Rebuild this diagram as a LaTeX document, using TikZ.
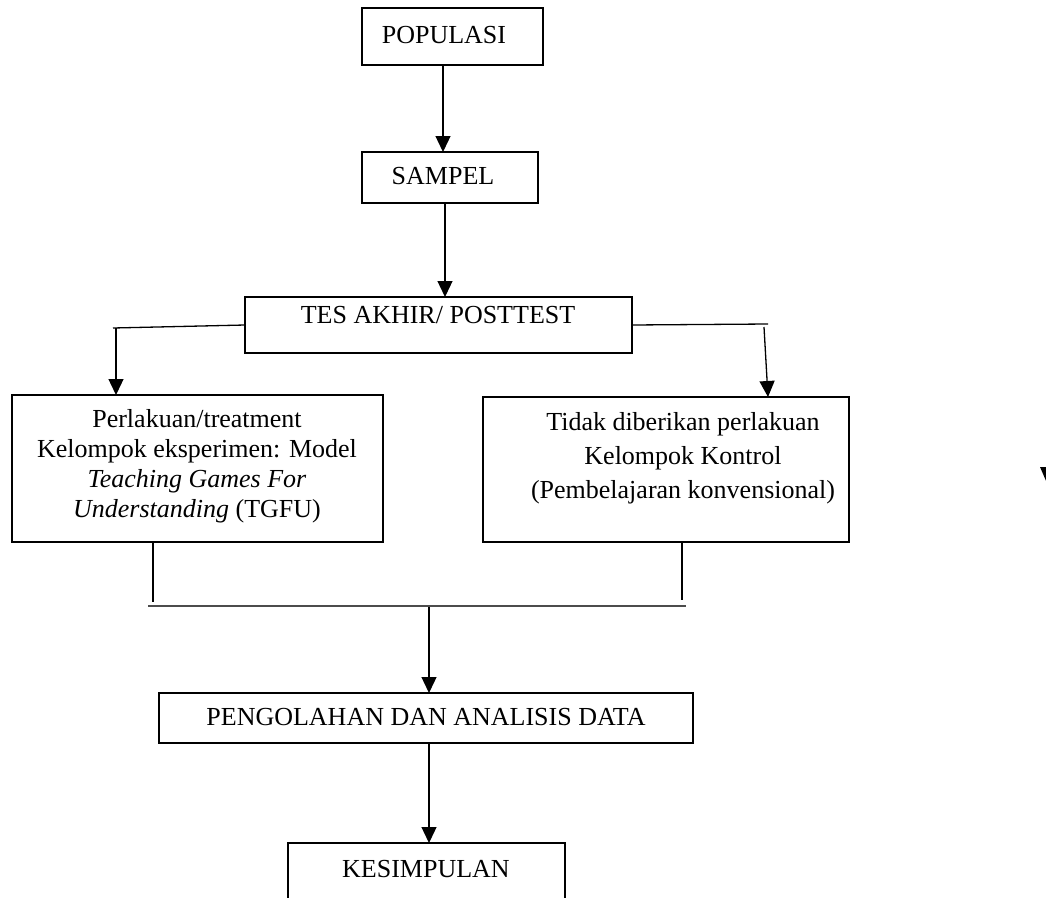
\documentclass[tikz,border=0pt]{standalone}
\usepackage{fontspec}
\setmainfont{Liberation Serif}
\usetikzlibrary{arrows.meta}
\begin{document}
\begin{tikzpicture}[x=1pt,y=-1pt,
  txt/.style={inner sep=0pt,font=\fontsize{26}{30}\selectfont,align=center},
  boxline/.style={line width=2.6pt},
  conn/.style={line width=1.3pt},
  arr/.style={line width=1.3pt,-{Triangle[length=16pt,width=15pt]}},
  merge/.style={line width=2pt,draw=black!70}]
\useasboundingbox (0,0) rectangle (1046,897);
\clip (0,0) rectangle (1046,897);
\fill[white] (0,0) rectangle (1046,897);
% boxes
\draw[boxline] (362,8) rectangle (543,65);
\node[txt] (tpop) at (444,35) {POPULASI};
\coordinate (popb) at (443,65);
\draw[boxline] (362,152) rectangle (538,203);
\node[txt] (tsam) at (443,176) {SAMPEL};
\coordinate (samt) at (443,152);
\coordinate (samb) at (445,203);
\draw[boxline] (245,297) rectangle (632,353);
\node[txt] (ttes) at (438,315) {TES AKHIR/ POSTTEST};
\coordinate (tesw) at (245,325);
\coordinate (tese) at (632,325);
\coordinate (test) at (445,297);
\draw[boxline] (12,395) rectangle (383,542);
\node[txt] (tl) at (197,466) {Perlakuan/treatment\\Kelompok eksperimen: Model\\\textit{Teaching Games For}\\\textit{Understanding} (TGFU)};
\draw[boxline] (483,397) rectangle (849,542);
\node[txt,font=\fontsize{26}{34}\selectfont] (tr) at (683,458) {Tidak diberikan perlakuan\\Kelompok Kontrol\\(Pembelajaran konvensional)};
\draw[boxline] (159,693) rectangle (693,743);
\node[txt] (tpeng) at (426,717) {PENGOLAHAN DAN ANALISIS DATA};
\draw[boxline] (288,910) -- (288,843) -- (565,843) -- (565,910);
\node[txt] (tkes) at (426,869) {KESIMPULAN};
% connectors
\draw[arr] (popb) -- (samt);
\draw[arr] (samb) -- (test);
\coordinate (lb) at (113,328);
\coordinate (lbv) at (116,328);
\coordinate (lbt) at (116,395);
\draw[conn] (tesw) -- (lb);
\draw[arr] (lbv) -- (lbt);
\coordinate (rb) at (768,324);
\coordinate (rbv) at (764,327);
\coordinate (rbt) at (768,397);
\draw[conn] (tese) -- (rb);
\draw[arr] (rbv) -- (rbt);
\coordinate (l1) at (153,542);
\coordinate (l2) at (153,602);
\coordinate (r1) at (682,542);
\coordinate (r2) at (682,600);
\draw[line width=1.5pt] (l1) -- (l2);
\draw[line width=1.5pt] (r1) -- (r2);
\coordinate (m1) at (148,606);
\coordinate (m2) at (686,606);
\draw[merge] (m1) -- (m2);
\coordinate (c1) at (429,607);
\coordinate (c2) at (429,693);
\draw[arr] (c1) -- (c2);
\coordinate (p1) at (429,743);
\coordinate (p2) at (429,843);
\draw[arr] (p1) -- (p2);
% stray arrowhead at right edge
\fill (1040,467) -- (1053,467) -- (1046.5,482) -- cycle;
\end{tikzpicture}
\end{document}
